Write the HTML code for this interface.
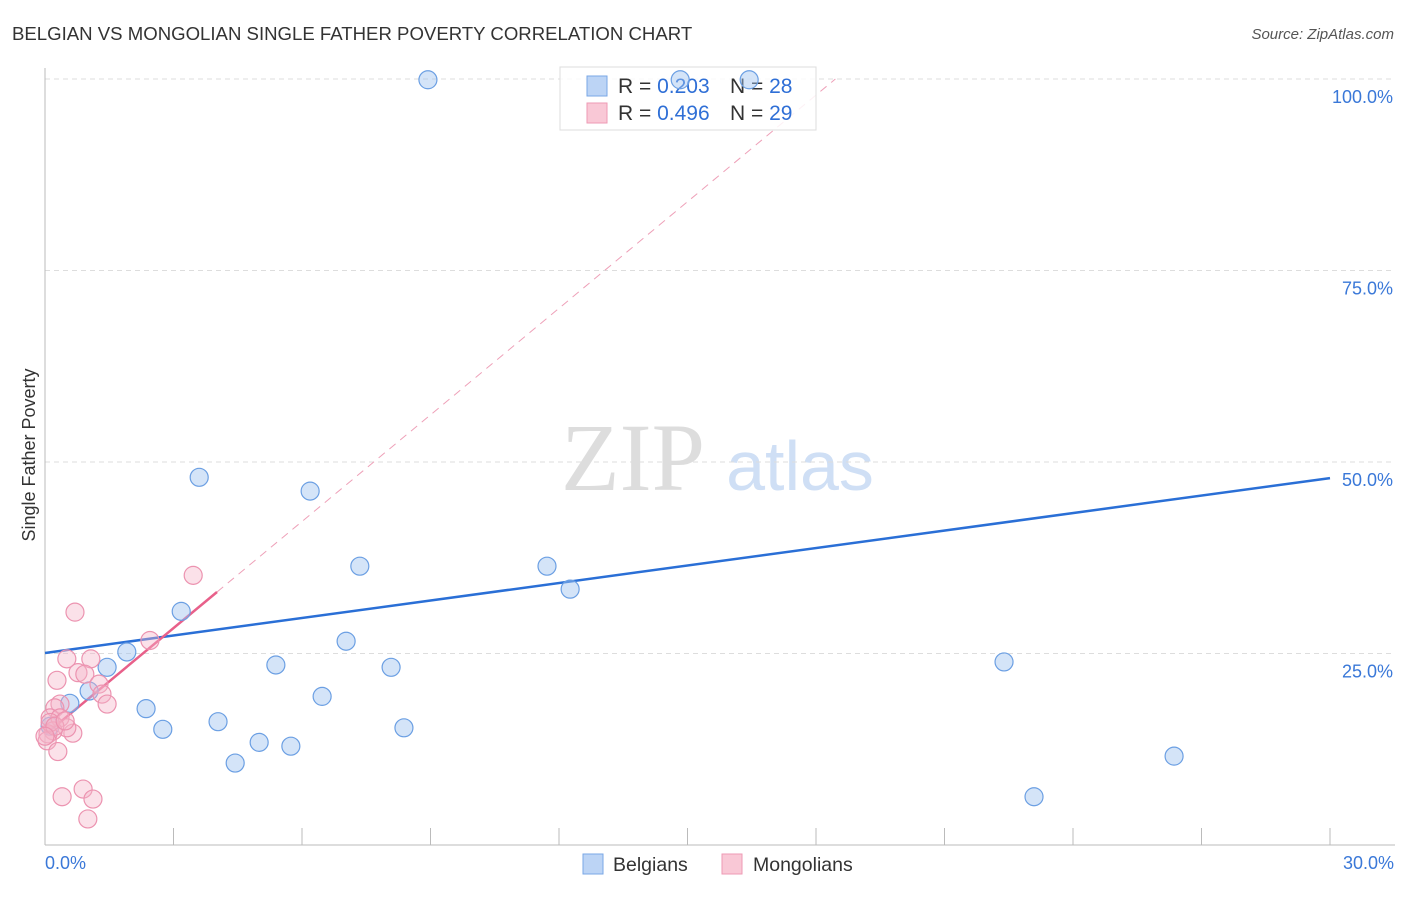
<!DOCTYPE html>
<html><head><meta charset="utf-8"><style>
body{margin:0;background:#fff;font-family:"Liberation Sans",sans-serif;}
</style></head><body>
<svg width="1406" height="892" xmlns="http://www.w3.org/2000/svg">
<text x="12" y="40" font-size="18.6" fill="#333">BELGIAN VS MONGOLIAN SINGLE FATHER POVERTY CORRELATION CHART</text>
<text x="1394" y="39" font-size="15" fill="#555" font-style="italic" text-anchor="end">Source: ZipAtlas.com</text>
<text x="633" y="490" font-size="96" font-family="Liberation Serif,serif" fill="#ddd" text-anchor="middle">ZIP</text>
<text x="800" y="490" font-size="70" fill="#cfdff5" text-anchor="middle">atlas</text>
<g id="grid"></g>
<line x1="45" y1="68" x2="45" y2="845" stroke="#bbb"/>
<line x1="45" y1="845" x2="1395" y2="845" stroke="#bbb"/>
<text x="35" y="455" font-size="18" fill="#333" text-anchor="middle" transform="rotate(-90 35 455)">Single Father Poverty</text>
<text x="45" y="869" font-size="18" fill="#3a78d8">0.0%</text>
<text x="1394" y="869" font-size="18" fill="#3a78d8" text-anchor="end">30.0%</text>
<g id="lines"></g>
<g>
<rect x="560" y="67" width="256" height="63" fill="#fff" fill-opacity="0.85" stroke="#ddd"/>
<rect x="587" y="76" width="20" height="20" fill="#bcd4f5" stroke="#7aa7e6"/>
<rect x="587" y="103" width="20" height="20" fill="#f9c8d6" stroke="#ee9ab4"/>
<text x="618" y="93" font-size="21" fill="#333">R = <tspan fill="#2f6fd6">0.203</tspan></text>
<text x="730" y="93" font-size="21" fill="#333">N = <tspan fill="#2f6fd6">28</tspan></text>
<text x="618" y="120" font-size="21" fill="#333">R = <tspan fill="#2f6fd6">0.496</tspan></text>
<text x="730" y="120" font-size="21" fill="#333">N = <tspan fill="#2f6fd6">29</tspan></text>
</g>
<g id="pts"></g>
<g>
<rect x="583" y="854" width="20" height="20" fill="#bcd4f5" stroke="#7aa7e6"/>
<text x="613" y="871" font-size="19.5" fill="#333">Belgians</text>
<rect x="722" y="854" width="20" height="20" fill="#f9c8d6" stroke="#ee9ab4"/>
<text x="753" y="871" font-size="19.5" fill="#333">Mongolians</text>
</g>
</svg>
<script>
const yTicks=[25,50,75,100];
const yTickLabels=["25.0%","50.0%","75.0%","100.0%"];
const xTicks=[3,6,9,12,15,18,21,24,27,30];
const belgX=[8.94,14.83,16.44,3.60,6.19,7.35,11.72,12.26,3.18,1.91,7.03,1.45,5.39,8.08,22.39,1.03,6.47,0.58,2.36,4.04,2.75,8.38,5.00,5.74,4.44,26.36,23.09,0.12];
const belgY=[99.9,99.9,99.9,48.0,46.2,36.4,36.4,33.4,30.5,25.2,26.6,23.2,23.5,23.2,23.9,20.1,19.4,18.5,17.8,16.1,15.1,15.3,13.4,12.9,10.7,11.6,6.3,15.5];
const mongX=[3.46,0.70,2.45,0.51,1.07,0.77,0.93,0.28,1.26,1.33,1.45,0.35,0.23,0.12,0.35,0.65,0.51,0.19,0.07,0.05,0.30,0.40,0.89,1.12,1.00,0.12,0.23,0.47,0.0];
const mongY=[35.2,30.4,26.7,24.3,24.3,22.5,22.3,21.5,21.0,19.7,18.4,18.4,17.9,16.6,16.6,14.6,15.3,14.9,14.5,13.6,12.2,6.3,7.3,6.0,3.4,16.0,15.5,16.2,14.2];
const belgLine=[25.07,47.9];
const mongLine=[14.4,33.03,4.016];
const NS="http://www.w3.org/2000/svg";
const xs=v=>45+v*1285/30, ys=v=>845-v*7.66;
function mk(t,a,p){const e=document.createElementNS(NS,t);for(const k in a)e.setAttribute(k,a[k]);p.appendChild(e);return e;}
const grid=document.getElementById('grid');
yTicks.forEach((t,i)=>{
 const l=mk('line',{x1:45,x2:1395,y1:ys(t),y2:ys(t),stroke:'#ddd','stroke-dasharray':'5,4'},grid);
 
 
 const tx=mk('text',{x:1393,y:ys(t)+24,'font-size':18,fill:'#3a78d8','text-anchor':'end'},grid);
 tx.textContent=yTickLabels[i];
 
 
});
xTicks.forEach(t=>{
 const l=mk('line',{x1:xs(t),x2:xs(t),y1:828,y2:845,stroke:'#bbb'},grid);
 
 
});
const lines=document.getElementById('lines');
const slope=(mongLine[1]-mongLine[0])/mongLine[2];
let d=mk('line',{x1:xs(mongLine[2]),y1:ys(mongLine[1]),x2:xs((100-mongLine[0])/slope),y2:ys(100),stroke:'#eea0b8','stroke-dasharray':'8,6'},lines);


let b=mk('line',{x1:xs(0),y1:ys(belgLine[0]),x2:xs(30),y2:ys(belgLine[1]),stroke:'#2a6fd6','stroke-width':2.5},lines);


let m=mk('line',{x1:xs(0),y1:ys(mongLine[0]),x2:xs(mongLine[2]),y2:ys(mongLine[1]),stroke:'#e8608a','stroke-width':2.5},lines);


const pts=document.getElementById('pts');
belgX.forEach((x,i)=>{
 const c=mk('circle',{cx:xs(x),cy:ys(belgY[i]),r:9,fill:'rgba(160,196,240,0.45)',stroke:'#6b9fe3','stroke-width':1.2},pts);
 
 
});
mongX.forEach((x,i)=>{
 const c=mk('circle',{cx:xs(x),cy:ys(mongY[i]),r:9,fill:'rgba(246,180,200,0.4)',stroke:'#ec93b0','stroke-width':1.2},pts);
 
 
});
</script>
</body></html>
